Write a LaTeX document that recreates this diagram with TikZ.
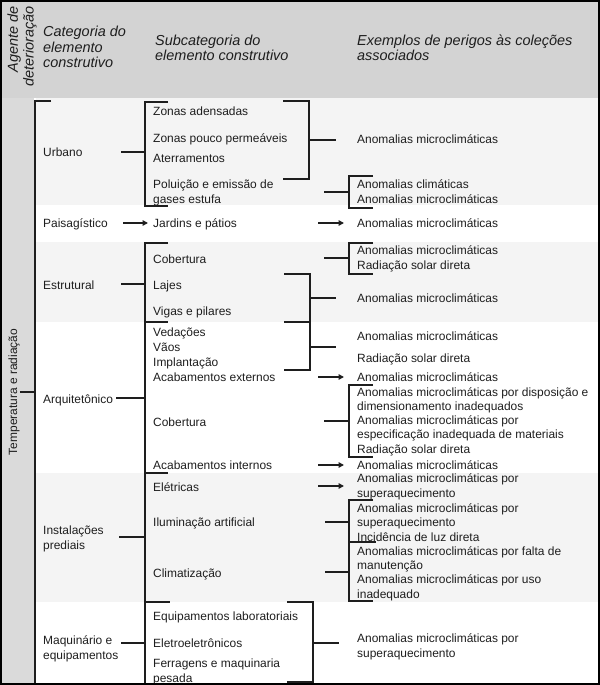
\documentclass[tikz,border=0pt]{standalone}
\usepackage{fontspec}
\setmainfont{Liberation Sans}
\usetikzlibrary{arrows.meta}
\definecolor{hdr}{HTML}{D3D3D3}
\definecolor{lcol}{HTML}{DADADA}
\definecolor{band}{HTML}{F4F4F4}
\definecolor{ink}{HTML}{1E1E1E}
\tikzset{
  br/.style={line width=1.8bp, draw=ink},
  arr/.style={line width=1.8bp, draw=ink, -{Triangle[length=5.5bp,width=5.5bp]}},
  txt/.style={anchor=base west, inner sep=0pt, text=ink, font=\fontsize{12}{14.2}\selectfont, align=left},
  hd/.style={anchor=base west, inner sep=0pt, text=ink, font=\fontsize{14.5}{16}\selectfont\itshape, align=left},
}
\begin{document}
\begin{tikzpicture}[x=1bp,y=-1bp]
\useasboundingbox (0,0) rectangle (600,685);
% backgrounds
\fill[hdr] (0,0) rectangle (600,98);
\fill[lcol] (0,98) rectangle (34,685);
\fill[band] (36,98) rectangle (600,205);
\fill[band] (36,242) rectangle (600,322);
\fill[band] (36,473) rectangle (600,602);

% header (multi-line nodes: base = baseline of last line)
\node[hd, rotate=90, align=right, anchor=east] (agent) at (22,6) {Agente de\\deterioração};
\node[hd] (hcat) at (43,68) {Categoria do\\elemento\\construtivo};
\node[hd] (hsub) at (155,61) {Subcategoria do\\elemento construtivo};
\node[hd] (hex) at (357,61) {Exemplos de perigos às coleções\\associados};

% agent
\node[txt, rotate=90, anchor=center] (temp) at (14,392) {Temperatura e radiação};

% categories
\node[txt] (urbano) at (43,156) {Urbano};
\node[txt] (paisag) at (43,227) {Paisagístico};
\node[txt] (estrut) at (43,289) {Estrutural};
\node[txt] (arquit) at (43,403) {Arquitetônico};
\node[txt] (instal) at (43,549) {Instalações\\prediais};
\node[txt] (maquin) at (43,659) {Maquinário e\\equipamentos};

% subcategories
\node[txt] (s1) at (153,116) {Zonas adensadas};
\node[txt] (s2) at (153,142) {Zonas pouco permeáveis};
\node[txt] (s3) at (153,162) {Aterramentos};
\node[txt] (s4) at (153,203) {Poluição e emissão de\\gases estufa};
\node[txt] (s5) at (153,227) {Jardins e pátios};
\node[txt] (s6) at (153,263) {Cobertura};
\node[txt] (s7) at (153,289) {Lajes};
\node[txt] (s8) at (153,315) {Vigas e pilares};
\node[txt] (s9) at (153,336) {Vedações};
\node[txt] (s10) at (153,351) {Vãos};
\node[txt] (s11) at (153,366) {Implantação};
\node[txt] (s12) at (153,381) {Acabamentos externos};
\node[txt] (s13) at (153,426) {Cobertura};
\node[txt] (s14) at (153,469) {Acabamentos internos};
\node[txt] (s15) at (153,491) {Elétricas};
\node[txt] (s16) at (153,526) {Iluminação artificial};
\node[txt] (s17) at (153,577) {Climatização};
\node[txt] (s18) at (153,620) {Equipamentos laboratoriais};
\node[txt] (s19) at (153,647) {Eletroeletrônicos};
\node[txt] (s20) at (153,682) {Ferragens e maquinaria\\pesada};

% examples
\node[txt] (e1) at (357,143) {Anomalias microclimáticas};
\node[txt] (e2) at (357,203) {Anomalias climáticas\\Anomalias microclimáticas};
\node[txt] (e3) at (357,227) {Anomalias microclimáticas};
\node[txt] (e4) at (357,269) {Anomalias microclimáticas\\Radiação solar direta};
\node[txt] (e5) at (357,302) {Anomalias microclimáticas};
\node[txt] (e6) at (357,340) {Anomalias microclimáticas};
\node[txt] (e7) at (357,362) {Radiação solar direta};
\node[txt] (e8) at (357,381) {Anomalias microclimáticas};
\node[txt] (e9) at (357,453) {Anomalias microclimáticas por disposição e\\dimensionamento inadequados\\Anomalias microclimáticas por\\especificação inadequada de materiais\\Radiação solar direta};
\node[txt] (e10) at (357,469) {Anomalias microclimáticas};
\node[txt] (e11) at (357,497) {Anomalias microclimáticas por\\superaquecimento};
\node[txt] (e12) at (357,541) {Anomalias microclimáticas por\\superaquecimento\\Incidência de luz direta};
\node[txt] (e13) at (357,598) {Anomalias microclimáticas por falta de\\manutenção\\Anomalias microclimáticas por uso\\inadequado};
\node[txt] (e14) at (357,657) {Anomalias microclimáticas por\\superaquecimento};

% main bracket
\coordinate (mt) at (51,101); \coordinate (mtop) at (35,101); \coordinate (mbot) at (35,685);
\coordinate (mag) at (35,392);
\draw[br] (mt) -- (mtop) -- (mbot);
\draw[br] (temp.south) -- (mag);

% Urbano
\coordinate (u0) at (121,152); \coordinate (u1) at (145,152);
\coordinate (ua) at (168,102); \coordinate (ub) at (145,102); \coordinate (uc) at (145,206); \coordinate (ud) at (168,206);
\draw[br] (u0) -- (u1);
\draw[br] (ua) -- (ub) -- (uc) -- (ud);
\coordinate (ur1) at (283,101); \coordinate (ur2) at (309,101); \coordinate (ur3) at (309,179); \coordinate (ur4) at (283,179);
\coordinate (ur5) at (309,140); \coordinate (ur6) at (336,140);
\draw[br] (ur1) -- (ur2) -- (ur3) -- (ur4);
\draw[br] (ur5) -- (ur6);
\coordinate (up0) at (324,192); \coordinate (up1) at (349,192);
\coordinate (up2) at (373,176); \coordinate (up3) at (349,176); \coordinate (up4) at (349,208); \coordinate (up5) at (373,208);
\draw[br] (up0) -- (up1);
\draw[br] (up2) -- (up3) -- (up4) -- (up5);

% Paisagistico
\coordinate (p0) at (123,223); \coordinate (p1) at (148,223);
\coordinate (p2) at (318,223); \coordinate (p3) at (344,223);
\draw[arr] (p0) -- (p1);
\draw[arr] (p2) -- (p3);

% sub bracket (Estrutural .. Maquinario)
\coordinate (sb0) at (168,243); \coordinate (sb1) at (145,243); \coordinate (sb2) at (145,685);
\draw[br] (sb0) -- (sb1) -- (sb2);
\coordinate (sb3) at (145,322); \coordinate (sb4) at (168,322);
\coordinate (sb5) at (145,473); \coordinate (sb6) at (168,473);
\coordinate (sb7) at (145,602); \coordinate (sb8) at (170,602);
\draw[br] (sb3) -- (sb4);
\draw[br] (sb5) -- (sb6);
\draw[br] (sb7) -- (sb8);

% Estrutural
\coordinate (es0) at (121,284); \coordinate (es1) at (145,284);
\draw[br] (es0) -- (es1);
\coordinate (ec0) at (324,258); \coordinate (ec1) at (349,258);
\coordinate (ec2) at (373,243); \coordinate (ec3) at (349,243); \coordinate (ec4) at (349,274); \coordinate (ec5) at (373,274);
\draw[br] (ec0) -- (ec1);
\draw[br] (ec2) -- (ec3) -- (ec4) -- (ec5);
\coordinate (er1) at (284,274); \coordinate (er2) at (310,274); \coordinate (er3) at (310,370); \coordinate (er4) at (284,370);
\coordinate (er5) at (284,322); \coordinate (er6) at (310,322);
\coordinate (er7) at (310,298); \coordinate (er8) at (336,298);
\coordinate (er9) at (310,347); \coordinate (er10) at (336,347);
\draw[br] (er1) -- (er2) -- (er3) -- (er4);
\draw[br] (er5) -- (er6);
\draw[br] (er7) -- (er8);
\draw[br] (er9) -- (er10);

% Arquitetonico
\coordinate (a0) at (116,398); \coordinate (a1) at (145,398);
\draw[br] (a0) -- (a1);
\coordinate (aa0) at (318,377); \coordinate (aa1) at (344,377);
\draw[arr] (aa0) -- (aa1);
\coordinate (ac0) at (324,421); \coordinate (ac1) at (349,421);
\coordinate (ac2) at (373,385); \coordinate (ac3) at (349,385); \coordinate (ac4) at (349,457); \coordinate (ac5) at (373,457);
\draw[br] (ac0) -- (ac1);
\draw[br] (ac2) -- (ac3) -- (ac4) -- (ac5);
\coordinate (ai0) at (318,465); \coordinate (ai1) at (344,465);
\draw[arr] (ai0) -- (ai1);

% Instalacoes
\coordinate (i0) at (119,537); \coordinate (i1) at (145,537);
\draw[br] (i0) -- (i1);
\coordinate (ie0) at (318,486); \coordinate (ie1) at (344,486);
\draw[arr] (ie0) -- (ie1);
\coordinate (ib0) at (373,500); \coordinate (ib1) at (349,500); \coordinate (ib2) at (349,601); \coordinate (ib3) at (373,601);
\coordinate (ib4) at (349,542); \coordinate (ib5) at (376,542);
\coordinate (ib6) at (325,522); \coordinate (ib7) at (349,522);
\coordinate (ib8) at (325,572); \coordinate (ib9) at (349,572);
\draw[br] (ib0) -- (ib1) -- (ib2) -- (ib3);
\draw[br] (ib4) -- (ib5);
\draw[br] (ib6) -- (ib7);
\draw[br] (ib8) -- (ib9);

% Maquinario
\coordinate (q0) at (121,643); \coordinate (q1) at (145,643);
\draw[br] (q0) -- (q1);
\coordinate (qr1) at (287,602); \coordinate (qr2) at (313,602); \coordinate (qr3) at (313,682); \coordinate (qr4) at (287,682);
\coordinate (qr5) at (313,643); \coordinate (qr6) at (339,643);
\draw[br] (qr1) -- (qr2) -- (qr3) -- (qr4);
\draw[br] (qr5) -- (qr6);

% frame
\draw[line width=2bp, black] (1,1) rectangle (599,684);
\end{tikzpicture}
\end{document}
